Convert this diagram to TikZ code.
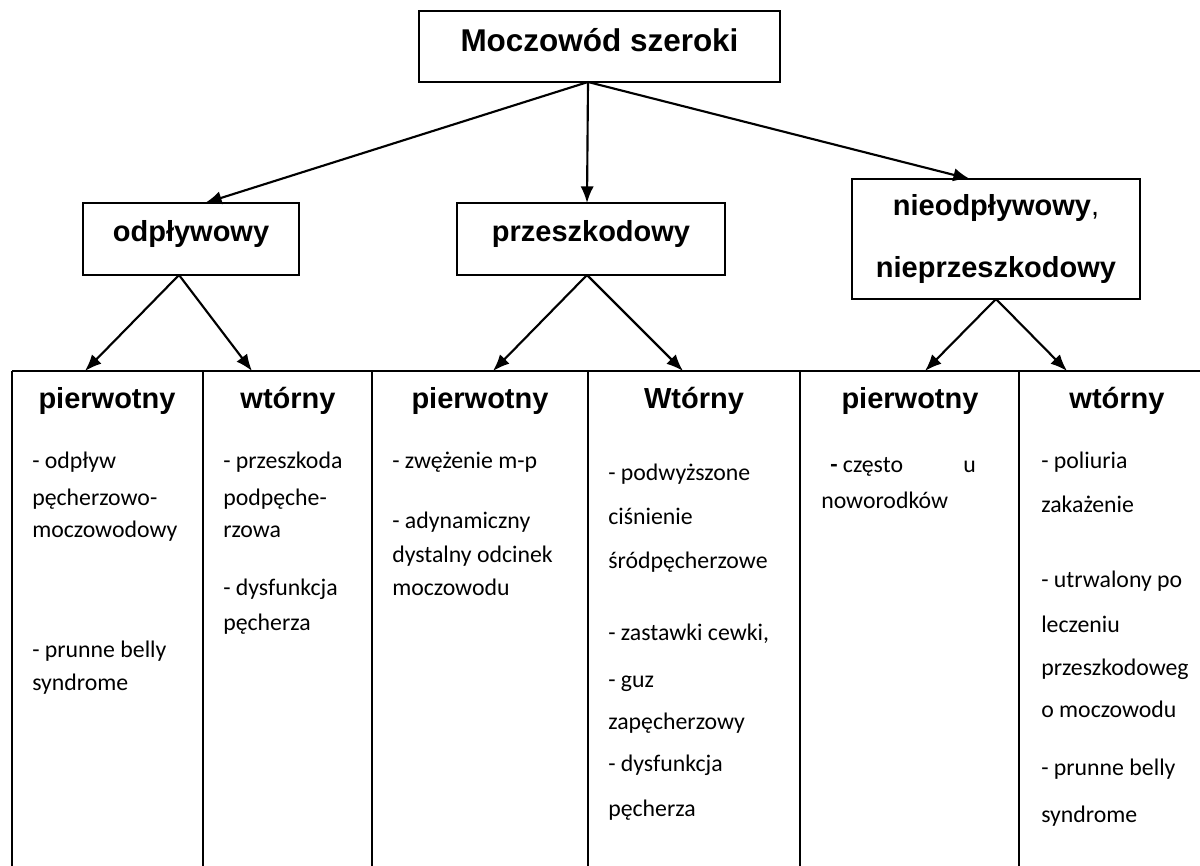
\documentclass[tikz,border=0pt]{standalone}
\usepackage{fontspec}
\setmainfont{Carlito}
\newfontfamily\headfam{Liberation Sans}
\usetikzlibrary{arrows.meta}

% font sizes (1 unit = 0.75pt)
\newcommand{\topfont}{\headfam\bfseries\fontsize{23.6pt}{28pt}\selectfont}
\newcommand{\headfont}{\headfam\bfseries\fontsize{21.75pt}{26pt}\selectfont}
\newcommand{\twolinefont}{\headfam\bfseries\fontsize{21.75pt}{46.5pt}\selectfont}
\newcommand{\bodyfont}{\fontsize{17.85pt}{21pt}\selectfont}

\begin{document}
\begin{tikzpicture}[x=0.75pt,y=-0.75pt,
  box/.style={draw, line width=1.5pt, inner sep=0pt, align=center},
  arr/.style={-{Latex[length=12.5pt,width=10pt]}, line width=1.6pt},
  rule/.style={line width=1.3pt},
  colhead/.style={anchor=base, font=\headfont, inner sep=0pt},
  item/.style={anchor=base west, font=\bodyfont, inner sep=0pt}]

\useasboundingbox (0,0) rectangle (1200,866);

% --- boxes ---
\node[box, minimum width=270.75pt, minimum height=53.25pt, font=\topfont,
      text height=17.25pt, text depth=9pt] (top) at (599.5,46.5) {Moczowód szeroki};
\node[box, minimum width=162pt, minimum height=54pt, font=\headfont,
      text height=15.75pt, text depth=12pt] (odp) at (191,239) {odpływowy};
\node[box, minimum width=201pt, minimum height=54pt, font=\headfont,
      text height=15.75pt, text depth=12pt] (prz) at (591,239) {przeszkodowy};
\node[box, minimum width=216pt, minimum height=90pt, font=\twolinefont] (nie) at (996,239)
      {nieodpływowy{\mdseries ,}\\nieprzeszkodowy};

% --- arrow anchor points ---
\coordinate (topout) at (588,82);
\coordinate (odpin) at (205,203);
\coordinate (przin) at (587,203);
\coordinate (niein) at (970,179);
\coordinate (odpout) at (179,275);
\coordinate (przout) at (587,275);
\coordinate (nieout) at (996,299);
\coordinate (t1) at (85,371);
\coordinate (t2) at (252,371);
\coordinate (t3) at (493,371);
\coordinate (t4) at (683,371);
\coordinate (t5) at (925,371);
\coordinate (t6) at (1067,371);

\draw[arr] (topout) -- (odpin);
\draw[arr] (topout) -- (przin);
\draw[arr] (topout) -- (niein);
\draw[arr] (odpout) -- (t1);
\draw[arr] (odpout) -- (t2);
\draw[arr] (przout) -- (t3);
\draw[arr] (przout) -- (t4);
\draw[arr] (nieout) -- (t5);
\draw[arr] (nieout) -- (t6);

% --- table grid ---
\draw[rule] (12,371) -- (1200,371);
\foreach \cx in {12,203,372,588,800,1019}
  \draw[rule] (\cx,371) -- (\cx,866);

% --- column headings ---
\node[colhead] (h1) at (107,408) {pierwotny};
\node[colhead] (h2) at (288,408) {wtórny};
\node[colhead] (h3) at (480,408) {pierwotny};
\node[colhead] (h4) at (694,408) {Wtórny};
\node[colhead] (h5) at (910,408) {pierwotny};
\node[colhead] (h6) at (1117,408) {wtórny};

% --- column 1 ---
\node[item] (c1a) at (32,468) {- odpływ};
\node[item] (c1b) at (32,505) {pęcherzowo-};
\node[item] (c1c) at (32,537) {moczowodowy};
\node[item] (c1d) at (32,657) {- prunne belly};
\node[item] (c1e) at (32,690) {syndrome};

% --- column 2 ---
\node[item] (c2a) at (223,468) {- przeszkoda};
\node[item] (c2b) at (223,505) {podpęche-};
\node[item] (c2c) at (223,537) {rzowa};
\node[item] (c2d) at (223,595) {- dysfunkcja};
\node[item] (c2e) at (223,630) {pęcherza};

% --- column 3 ---
\node[item] (c3a) at (392,468) {- zwężenie m-p};
\node[item] (c3b) at (392,528) {- adynamiczny};
\node[item] (c3c) at (392,562) {dystalny odcinek};
\node[item] (c3d) at (392,595) {moczowodu};

% --- column 4 ---
\node[item] (c4a) at (608,480) {- podwyższone};
\node[item] (c4b) at (608,524) {ciśnienie};
\node[item] (c4c) at (608,568) {śródpęcherzowe};
\node[item] (c4d) at (608,640) {- zastawki cewki,};
\node[item] (c4e) at (608,687) {- guz};
\node[item] (c4f) at (608,729) {zapęcherzowy};
\node[item] (c4g) at (608,771) {- dysfunkcja};
\node[item] (c4h) at (608,816) {pęcherza};

% --- column 5 ---
\node[item] (c5a) at (830,472) {\makebox[99.75pt][l]{\textbf{-} często}u};
\node[item] (c5b) at (821,508) {noworodków};

% --- column 6 ---
\node[item] (c6a) at (1041,468) {- poliuria};
\node[item] (c6b) at (1041,512) {zakażenie};
\node[item] (c6c) at (1041,587) {- utrwalony po};
\node[item] (c6d) at (1041,632) {leczeniu};
\node[item] (c6e) at (1041,675) {przeszkodoweg};
\node[item] (c6f) at (1041,717) {o moczowodu};
\node[item] (c6g) at (1041,775) {- prunne belly};
\node[item] (c6h) at (1041,822) {syndrome};

\end{tikzpicture}
\end{document}
